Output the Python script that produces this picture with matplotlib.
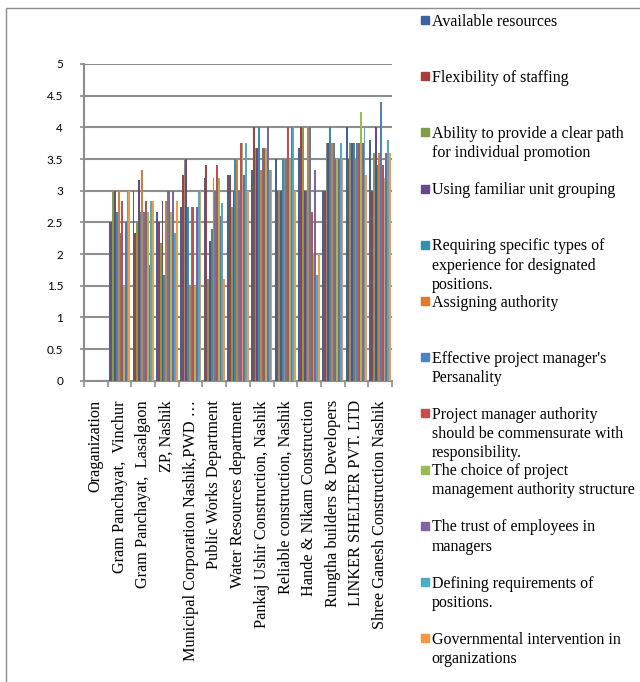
import numpy as np
import matplotlib
matplotlib.use("Agg")
import matplotlib.pyplot as plt
from matplotlib.patches import Rectangle

# Categories (x axis) and series (legend)
organizations = [
    "Oraganization",
    "Gram Panchayat,  Vinchur",
    "Gram Panchayat,  Lasalgaon",
    "ZP, Nashik",
    "Municipal Corporation Nashik,PWD \u2026",
    "Public Works Department",
    "Water Resources department",
    "Pankaj Ushir Construction, Nashik",
    "Reliable construction, Nashik",
    "Hande & Nikam Construction",
    "Rungtha builders & Developers",
    "LINKER SHELTER PVT. LTD",
    "Shree Ganesh Construction Nashik",
]

factors = [
    "Available resources",
    "Flexibility of staffing",
    "Ability to provide a clear path\nfor individual promotion",
    "Using familiar unit grouping",
    "Requiring specific types of\nexperience for designated\npositions.",
    "Assigning authority",
    "Effective project manager's\nPersanality",
    "Project manager authority\nshould be commensurate with\nresponsibility.",
    "The choice of project\nmanagement authority structure",
    "The trust of employees in\nmanagers",
    "Defining requirements of\npositions.",
    "Governmental intervention in\norganizations",
]

colors = ["#3D64A0", "#A53F3C", "#7F9E4A", "#664A8C", "#3690AA", "#DB7A31",
          "#4F81BD", "#C0504D", "#9BBB59", "#8064A2", "#4BACC6", "#F79646"]

# mean scores per organization, one value per factor (same order as factors)
oraganization = [np.nan] * 12
vinchur = [2.5, 2.5, 3.0, 3.0, 2.67, 3.0, 2.33, 2.83, 1.5, 2.5, 3.0, 3.0]
lasalgaon = [3.0, 2.33, 2.5, 3.17, 2.67, 3.33, 2.67, 2.83, 2.67, 1.83, 2.83, 2.83]
zp_nashik = [2.67, 2.5, 2.17, 2.83, 1.67, 2.83, 3.0, 3.0, 2.67, 3.0, 2.33, 2.83]
municipal = [2.75, 3.25, 3.5, 3.5, 2.75, 1.5, 2.75, 2.75, 1.5, 2.75, 3.0, 3.0]
public_works = [3.2, 3.4, 1.6, 2.2, 2.4, 3.2, 3.0, 3.4, 3.2, 2.6, 2.8, 1.6]
water_res = [3.25, 3.25, 2.75, 3.0, 3.5, 3.5, 3.0, 3.75, 3.75, 3.25, 3.75, 3.0]
pankaj = [3.33, 4.0, 3.67, 3.67, 4.0, 3.33, 3.67, 3.67, 3.67, 4.0, 3.33, 3.33]
reliable = [3.5, 3.0, 3.0, 3.0, 3.5, 3.5, 3.5, 4.0, 3.5, 4.0, 4.0, 3.0]
hande = [3.67, 4.0, 4.0, 3.0, 3.0, 4.0, 4.0, 2.67, 2.0, 3.33, 1.67, 2.0]
rungtha = [3.0, 3.0, 3.75, 3.75, 4.0, 3.75, 3.75, 3.5, 3.5, 3.5, 3.75, 3.5]
linker = [4.0, 3.5, 3.75, 3.75, 3.75, 3.5, 3.75, 3.75, 4.25, 3.75, 4.0, 3.25]
shree = [3.8, 3.0, 3.6, 4.0, 3.4, 3.6, 4.4, 3.4, 3.2, 3.6, 3.8, 3.6]

scores = np.array([oraganization, vinchur, lasalgaon, zp_nashik, municipal,
                   public_works, water_res, pankaj, reliable, hande,
                   rungtha, linker, shree])

W, H = 640, 682
fig = plt.figure(figsize=(W / 100, H / 100), dpi=100)

# outer chart frame (only left and top edges show)
fig.patches.append(Rectangle((6 / W, -0.05), 1.2, 1.05 - 8 / H,
                             transform=fig.transFigure, fill=False,
                             edgecolor="#8C8C8C", lw=1.0))

ax = fig.add_axes([84 / W, 1 - 380.7 / H, (392 - 84) / W, (380.7 - 64) / H])

x = np.arange(len(organizations))
n = len(factors)
group_w = 0.9
bw = group_w / n
for j in range(n):
    ax.bar(x - group_w / 2 + bw * (j + 0.5), scores[:, j], width=bw,
           color=colors[j], linewidth=0, zorder=3)

ax.set_xlim(-0.5, len(organizations) - 0.5)
ax.set_ylim(0, 5)
ax.set_yticks(np.arange(0, 5.01, 0.5))
ax.set_yticklabels([f"{v:g}" for v in np.arange(0, 5.01, 0.5)],
                   family="Lato", fontsize=8.5)
ax.yaxis.grid(True, color="#8E8E8E", lw=1.5, zorder=0)
ax.set_axisbelow(True)

ax.set_xticks(x)
ax.set_xticklabels(organizations, rotation=90, family="Liberation Serif",
                   fontsize=11.7, va="top", ha="center")
ax.set_xticks(np.arange(-0.5, len(organizations)), minor=True)
ax.tick_params(axis="x", which="major", length=0, pad=14)
ax.tick_params(axis="x", which="minor", length=4, width=1.2, color="#8E8E8E")
ax.tick_params(axis="y", length=3, width=1.2, color="#8E8E8E", pad=12)

for side in ["top", "right"]:
    ax.spines[side].set_visible(False)
for side in ["left", "bottom"]:
    ax.spines[side].set_color("#8E8E8E")
    ax.spines[side].set_linewidth(1.5)

# legend entries spread down the right side, like Excel does
for i, (name, c) in enumerate(zip(factors, colors)):
    yc = 20 + 56.2 * i
    fig.patches.append(Rectangle((421 / W, 1 - (yc + 4) / H), 8 / W, 8 / H,
                                 transform=fig.transFigure, color=c))
    fig.text(431.5 / W, 1 - (yc - 6.5) / H, name, family="Liberation Serif",
             fontsize=11.5, va="top", ha="left", linespacing=1.27)

fig.savefig("out.png", dpi=100)
